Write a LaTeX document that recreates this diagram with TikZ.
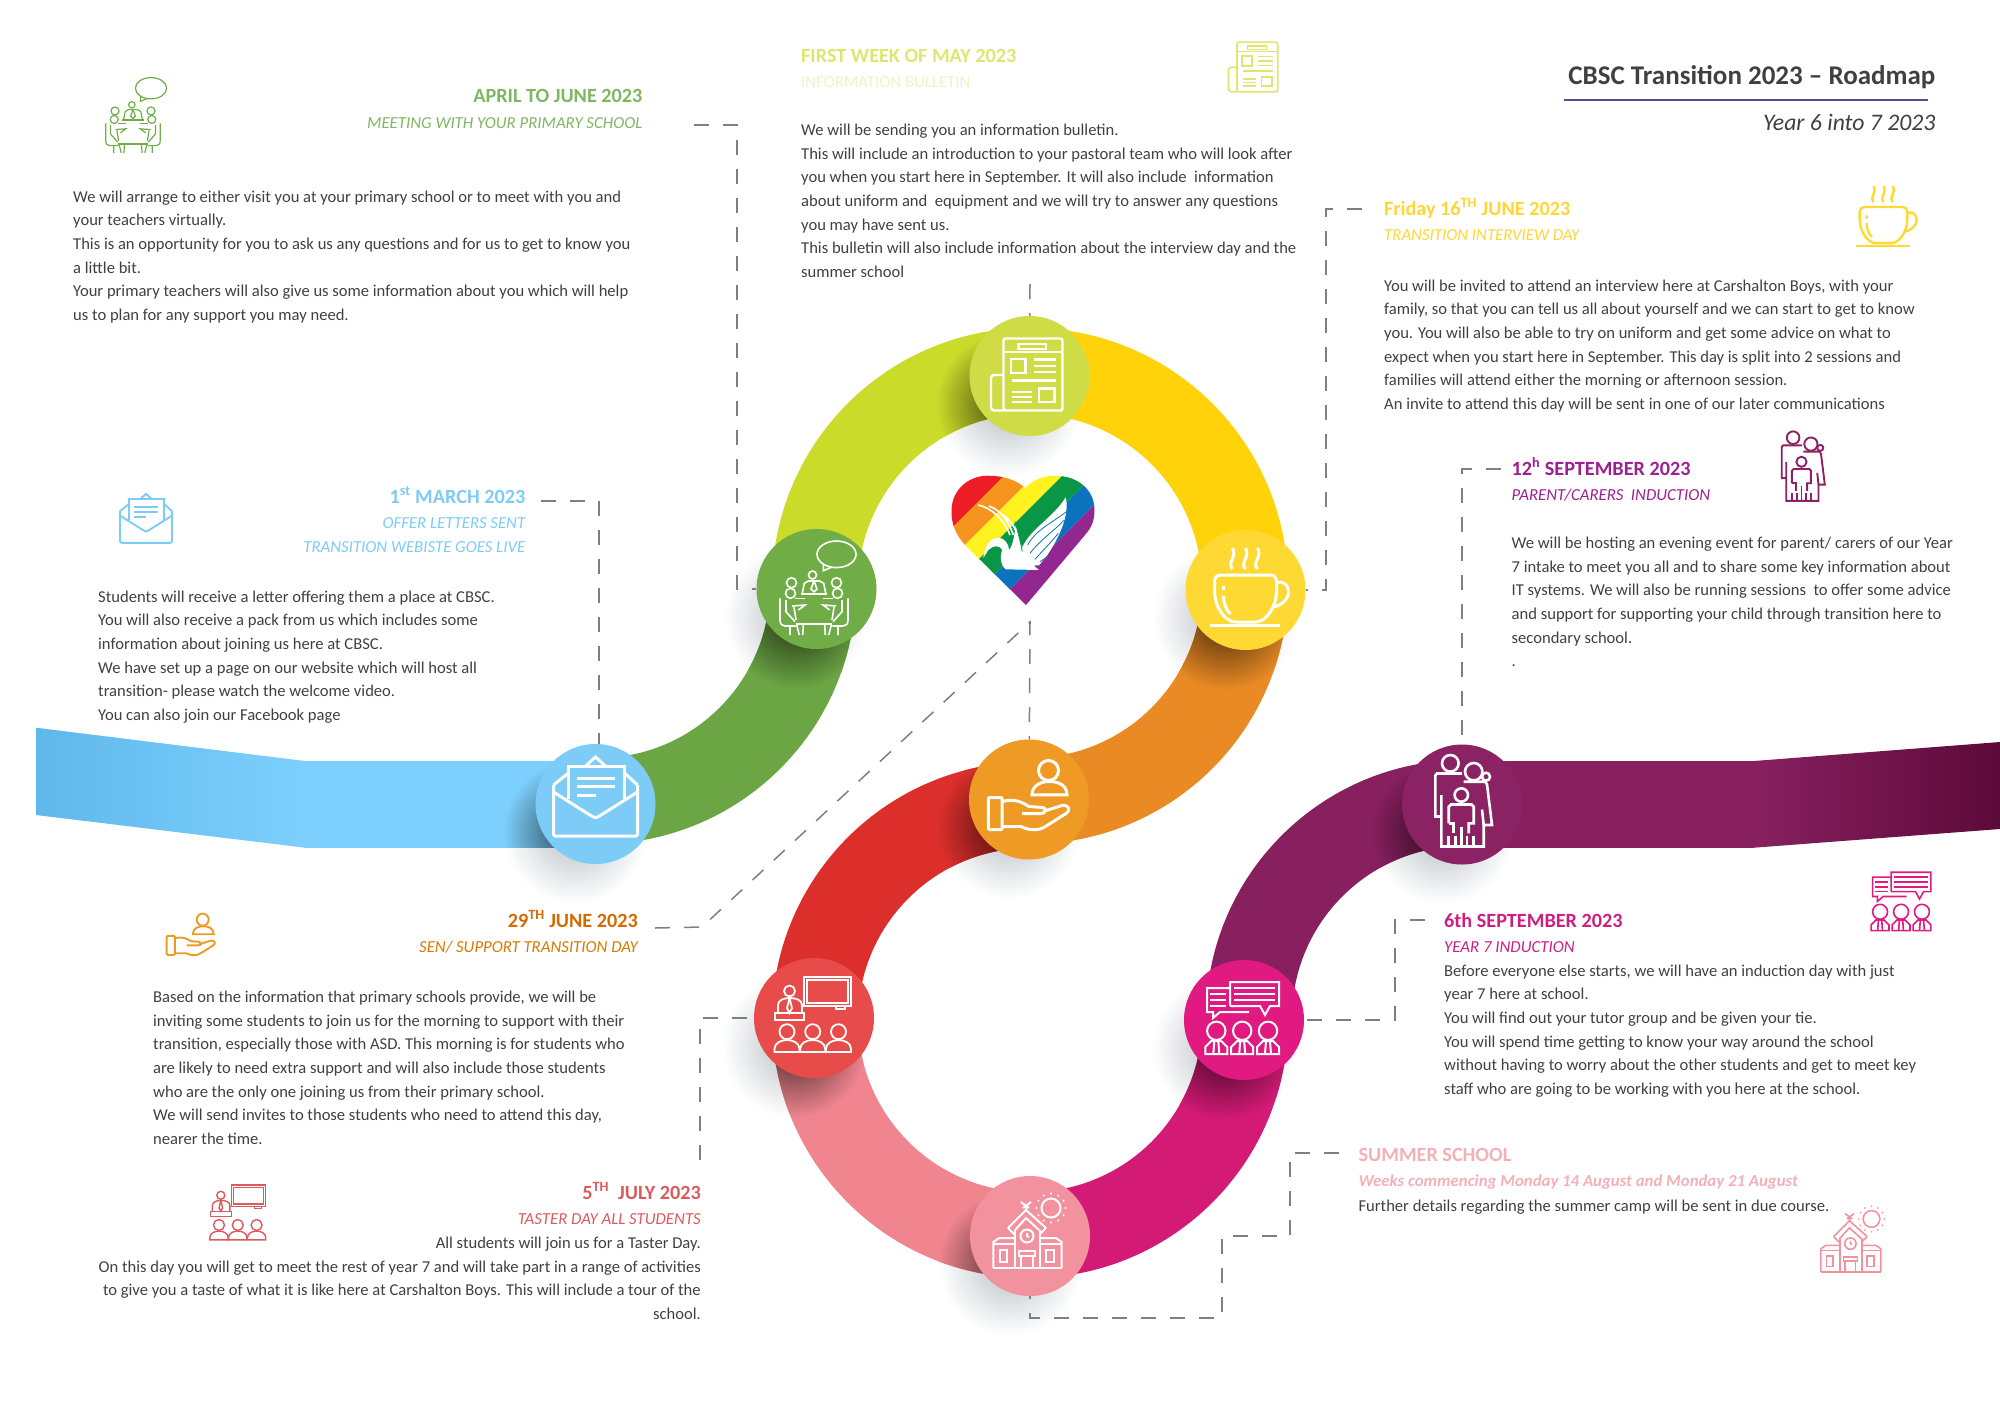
\documentclass[tikz,border=0pt]{standalone}
\usepackage{fontspec}
\setmainfont{Carlito}
\usetikzlibrary{positioning}
\definecolor{bandblue}{HTML}{7DD0FD}
\definecolor{bandblueend}{HTML}{5FB8EA}
\definecolor{bandgreen}{HTML}{6BA544}
\definecolor{bandlime}{HTML}{CBDB2A}
\definecolor{bandyellow}{HTML}{FFD20A}
\definecolor{bandorange}{HTML}{E98A24}
\definecolor{bandred}{HTML}{DC2F2B}
\definecolor{bandpink}{HTML}{F0858F}
\definecolor{bandmagenta}{HTML}{D31A75}
\definecolor{bandpurple}{HTML}{882060}
\definecolor{bandpurpleend}{HTML}{5C0A38}
\definecolor{stopblue}{HTML}{7DCBF7}
\definecolor{stopgreen}{HTML}{70AD47}
\definecolor{stoplime}{HTML}{D0DC46}
\definecolor{stopyellow}{HTML}{FFD933}
\definecolor{stoporange}{HTML}{EE9A25}
\definecolor{stopred}{HTML}{E84C4A}
\definecolor{stoppink}{HTML}{F2929E}
\definecolor{stopmagenta}{HTML}{E01A80}
\definecolor{stoppurple}{HTML}{8B2264}
\definecolor{softshadow}{HTML}{B8BEC3}
\definecolor{leadergray}{HTML}{7F7F7F}
\definecolor{bodygray}{HTML}{404040}
\definecolor{rulepurple}{HTML}{5F4B8B}
\definecolor{txtgreen}{HTML}{7FB662}
\definecolor{txtblue}{HTML}{7DCBF7}
\definecolor{txtlime}{HTML}{DDE76F}
\definecolor{txtpale}{HTML}{EFF3C4}
\definecolor{txtyellow}{HTML}{FFD633}
\definecolor{txtpurple}{HTML}{9E1F92}
\definecolor{txtorange}{HTML}{D66A00}
\definecolor{txtred}{HTML}{DB5A5E}
\definecolor{txtmagenta}{HTML}{CE1F80}
\definecolor{txtpink}{HTML}{F4B0B8}
\definecolor{heartred}{HTML}{EE1C25}
\definecolor{heartorange}{HTML}{F7941D}
\definecolor{heartyellow}{HTML}{FFF21F}
\definecolor{heartgreen}{HTML}{0A9647}
\definecolor{heartblue}{HTML}{0B72BD}
\definecolor{heartpurple}{HTML}{92278F}
\newcommand{\ringband}[5]{\fill[#1] (#2,#3) ++(#4:258) arc[start angle=#4,end angle=#5,radius=258] -- ++(#5:-86) arc[start angle=#5,end angle=#4,radius=172] -- cycle;}
\newcommand{\ringshade}[7]{\begin{scope}
    \clip (#2,#3) ++(#4:258) arc[start angle=#4,end angle=#5,radius=258] -- ++(#5:-86) arc[start angle=#5,end angle=#4,radius=172] -- cycle;
    \shade[inner color=#1!30!black,outer color=#1] (#6,#7) circle (72);
  \end{scope}}
\tikzset{
  newsicon/.pic={
    \draw[rounded corners=2] (-26,-37.5) rectangle (33,34.5);
    \draw[rounded corners=3] (-26,-1) -- (-38.5,-1) -- (-38.5,34.5) -- (-26,34.5);
    \draw (-26,-24) -- (33,-24);
    \draw (-11,-32) rectangle (16.6,-27);
    \draw (-18.6,-17) rectangle (-4,-3);
    \foreach \y in {-16.5,-10,-3.8} \draw (4,\y) -- (26,\y);
    \draw (-18,4.6) -- (26,4.6);
    \foreach \y in {16,21,26} \draw (-18,\y) -- (2,\y);
    \draw (9.5,12.6) rectangle (25,26);
  },
  meetingicon/.pic={
    \draw (20,-34.7) ellipse (19.5 and 13.3);
    \draw (7,-25) -- (6.8,-18.3) -- (15,-21.8);
    \draw (-4,-14) circle (4);
    \foreach \sgn in {1,-1} {
      \begin{scope}[shift={(-2.5,0)},xscale=\sgn]
        \draw (-22.5,-6.3) circle (5);
        \draw (-23.5,4.3) circle (5);
        \draw (-34,9.3) -- (-34,31) .. controls (-34,35) and (-32,37) .. (-29,37) -- (-18.3,37);
        \draw (-28,11) -- (-28,22.7) -- (-19,32.7);
        \draw (-19,9.3) -- (-9,9.3);
        \draw (-22,17) -- (-9,16) -- (-15.7,21) (-20,18.3) -- (-18,31);
        \draw (-13.3,5) -- (0,5);
        \draw (-11.7,4.3) -- (-9.7,-5.7) -- (-5.7,-8) -- (0,-8);
        \draw (0,-8) -- (-3,0) -- (0,3);
        \draw (-18.3,35) -- (0,35);
        \draw (-24,37) -- (-24,46) (-17.3,36) -- (-14.7,46) (-10.7,36) -- (-11.3,46);
      \end{scope}
    }
  },
  coffeeicon/.pic={
    \draw (-25,-15) -- (25,-15) .. controls (29,-15) and (31,-12) .. (31,-8) -- (31,0) .. controls (31,18) and (20,32) .. (10,32) -- (-10,32) .. controls (-20,32) and (-31,18) .. (-31,0) -- (-31,-8) .. controls (-31,-12) and (-29,-15) .. (-25,-15) -- cycle;
    \draw (31,-7) .. controls (38,-10) and (43,-5) .. (43,2) .. controls (43,9) and (36,16) .. (27,17);
    \draw (-22,-4) -- (-22,0) (-22,6) .. controls (-22,12) and (-20,20) .. (-15,24);
    \draw (-36,35.6) -- (34,35.6);
    \foreach \x in {-13,0,12} \draw (\x,-21) .. controls ({\x-6},-27) and ({\x+5},-33) .. (\x,-42);
  },
  handicon/.pic={
    \draw (19.5,-29) circle (10);
    \draw (3,-4.6) .. controls (3,-14) and (12,-18) .. (20,-18) .. controls (30,-18) and (38,-14) .. (38,-4.6) -- cycle;
    \draw[rounded corners=1] (-40.6,-2) rectangle (-27,30);
    \draw (-27,2) .. controls (-15,-1) and (-8,2) .. (0,7) -- (14,8) .. controls (18,9) and (17,14) .. (12,14) -- (-7,14);
    \draw (14,12) -- (33,6) .. controls (40,5) and (42,11) .. (37,14) -- (18,26) .. controls (10,32) and (0,31) .. (-8,27) -- (-27,27);
  },
  lettericon/.pic={
    \draw[rounded corners=2] (-42,-19) -- (-42,32) -- (42,32) -- (42,-19);
    \draw (-42,-12) -- (-4,12) .. controls (-1,14) and (1,14) .. (4,12) -- (42,-12);
    \draw (-42,-19) -- (-27,-31) (42,-19) -- (29,-31);
    \draw (-10,-38) -- (0,-47) -- (10,-38);
    \draw (-27,-5) -- (-27,-38) -- (29,-38) -- (29,-5);
    \draw (-19,-26) -- (19,-26) (-19,-18) -- (19,-18) (-19,-9) -- (0,-9);
  },
  presentericon/.pic={
    \draw (-10,-41) rectangle (37,-12);
    \draw (-7,-38) rectangle (34,-15);
    \draw (22,-12) rectangle (31,-9);
    \draw (-24.5,-27) circle (5.5);
    \draw (-36,-5) -- (-36,-13) .. controls (-36,-18) and (-30,-20) .. (-24.5,-20) .. controls (-18,-20) and (-12,-18) .. (-12,-13) -- (-12,-5);
    \draw (-24.5,-20) -- (-27,-10) -- (-24.5,-5) -- (-22,-10) -- cycle;
    \draw (-39,-5) rectangle (-10,2);
    \foreach \x in {-27,-1.3,24.5} {
      \draw (\x,13.7) circle (7.5);
      \draw ({\x-12.5},34) -- ({\x-12.5},31) .. controls ({\x-12.5},25) and ({\x-6},22) .. (\x,22) .. controls ({\x+6},22) and ({\x+12.5},25) .. ({\x+12.5},31) -- ({\x+12.5},34) -- cycle;
    }
  },
  inductionicon/.pic={
    \draw (-14,-14) -- (-14,-38) -- (35,-38) -- (35,-14) -- (26,-14) -- (21,-5) -- (16,-14) -- (-14,-14);
    \draw (-14,-32) -- (-37,-32) -- (-37,-8) -- (-31,-8) -- (-31,-2) -- (-24,-8) -- (5,-8);
    \foreach \y in {-32,-26,-20} \draw (-10,\y) -- (31,\y);
    \foreach \y in {-26,-20,-14} \draw (-34,\y) -- (-18,\y);
    \foreach \x in {-27.7,-1.8,24} {
      \draw (\x,10.8) circle (9.2);
      \draw ({\x-11},34) -- ({\x-11},27) -- ({\x-5},21) -- ({\x+5},21) -- ({\x+11},27) -- ({\x+11},34) -- cycle;
      \draw ({\x-2},21) -- ({\x-3},34) ({\x+2},21) -- ({\x+3},34);
    }
  },
  schoolicon/.pic={
    \draw (-36.6,32) -- (31.7,32);
    \draw (-36.6,32) -- (-36.6,6) -- (-31,2) -- (-15,2) (31.7,32) -- (31.7,6) -- (26,2) -- (10,2);
    \draw (-36.6,8) -- (-15,8) (10,8) -- (31.7,8);
    \draw (-22,-8) -- (-4,-26) -- (16,-8) (-15,-6) -- (-4,-18) -- (9,-6);
    \draw (-22,-8) -- (-15,-1) (16,-8) -- (10,-2);
    \draw (-15,-6) -- (-15,32) (10,-6) -- (10,32);
    \draw (-3,0) circle (6.5);
    \draw (-3,-3) -- (-3,0) -- (-1,1);
    \draw (-4,-26) -- (-4,-30) (-9,-34) -- (-1,-28) (1,-34) -- (-7,-28);
    \draw (-30,14) rectangle (-23,26) (16,14) rectangle (24,26);
    \draw (-11,15) rectangle (5,20);
    \draw (-9,20) -- (-9,32) (3,20) -- (3,32);
    \draw (21,-28) circle (9.5);
    \foreach \a in {0,30,...,330} \fill (21,-28) ++(\a:14.5) circle (1.1);
  },
  familyicon/.pic={
    \draw (-11.7,-41.2) circle (8.3);
    \draw (11.7,-32.8) circle (8.7);
    \draw (24,-27.8) circle (4);
    \draw (0,-31) -- (-25,-31) -- (-26.7,-29) -- (-26.7,12) -- (-20.7,12);
    \draw (-20.7,-9.5) -- (-20.7,42) -- (21.7,42) -- (21.7,20.5) -- (30,20.5) -- (25,-20) -- (23.3,-22.8) -- (1.7,-22.8);
    \draw (21.7,20.5) -- (20,5);
    \draw (-0.7,-9.5) circle (6.7);
    \draw (-13.3,18.8) -- (-13.3,2.2) -- (-11,0) -- (9.5,0) -- (11.7,2.2) -- (11.7,18.8) -- (6.7,18.8) -- (6.7,28.8);
    \draw (-13.3,18.8) -- (-8.3,18.8) -- (-8.3,28.8);
    \foreach \x in {-13.3,-6.7,-0.7,5,11.7} \draw (\x,31) -- (\x,42);
    \draw (-0.7,22) -- (-0.7,31);
  },
}
\begin{document}
\begin{tikzpicture}[
    x=1pt,y=-1pt,
    stopdot/.style={circle,minimum size=120pt,inner sep=0pt},
    softblob/.style={inner color=softshadow,outer color=white},
    leader/.style={draw=leadergray,line width=1.5pt,dash pattern=on 15pt off 14pt},
    headtxt/.style={font=\fontsize{20.2}{22}\selectfont\bfseries,inner sep=0pt},
    subtxt/.style={font=\fontsize{16.8}{20}\selectfont\itshape,inner sep=0pt},
    bodytxt/.style={font=\fontsize{16.58}{23.6}\selectfont,text=bodygray,inner sep=0pt,align=left,anchor=north west,execute at begin node=\strut},
    bodyright/.style={bodytxt,align=right,anchor=north east},
    bigicon/.style={white,draw=white,fill=white},
  ]
  \useasboundingbox (0,0) rectangle (2000,1414);

  \foreach \cx/\cy in {575/832,796/617,1008/404,1225/618,1009/827,794/1046,1224/1048,1010/1264,1442/832}
    \shade[softblob] (\cx,\cy) circle (72);

  \shade[left color=bandblueend,right color=bandblue] (36,727.7) -- (305,761) -- (305,847.7) -- (36,815) -- cycle;
  \fill[bandblue] (305,761) rectangle (596,847.7);
  \shade[left color=bandpurple,right color=bandpurpleend] (1754,761) -- (2000,742) -- (2000,829) -- (1754,847.7) -- cycle;
  \fill[bandpurple] (1462,761) rectangle (1754,847.7);

  \ringband{bandgreen}{598}{586}{90}{0}
  \ringband{bandlime}{1030}{586}{180}{270}
  \ringband{bandyellow}{1030}{586}{270}{360}
  \ringband{bandorange}{1030}{586}{0}{90}
  \ringband{bandred}{1030}{1020}{270}{180}
  \ringband{bandpink}{1030}{1020}{180}{90}
  \ringband{bandmagenta}{1030}{1020}{90}{0}
  \ringband{bandpurple}{1464}{1018}{180}{270}

  \begin{scope}
    \clip (305,761) rectangle (596,847.7);
    \shade[inner color=bandblue!30!black,outer color=bandblue] (575,832) circle (72);
  \end{scope}
  \ringshade{bandgreen}{598}{586}{90}{0}{796}{617}
  \ringshade{bandlime}{1030}{586}{180}{270}{1008}{404}
  \ringshade{bandorange}{1030}{586}{0}{90}{1225}{618}
  \ringshade{bandred}{1030}{1020}{270}{180}{1009}{827}
  \ringshade{bandpink}{1030}{1020}{180}{90}{794}{1046}
  \ringshade{bandpink}{1030}{1020}{180}{90}{1010}{1264}
  \ringshade{bandmagenta}{1030}{1020}{90}{0}{1224}{1048}
  \ringshade{bandpurple}{1464}{1018}{180}{270}{1442}{832}

  \begin{scope}
    \clip (1026,605) -- (965,545) .. controls (956,535) and (951,524) .. (951.5,510) .. controls (952,490) and (968,475.7) .. (988,475.7) .. controls (1003,475.7) and (1017,480) .. (1025,488) .. controls (1033,480) and (1043,475.7) .. (1055,475.7) .. controls (1078,475.7) and (1094.5,490) .. (1094.5,510) .. controls (1094.5,520) and (1092,527) .. (1085,535) -- cycle;
    \foreach \sa/\sb/\col in {1430/1480/heartred,1480/1510/heartorange,1510/1538/heartyellow,1538/1569/heartgreen,1569/1599/heartblue,1599/1700/heartpurple}
      \fill[\col] ({\sa-460},460) -- ({\sb-460},460) -- ({\sb-620},620) -- ({\sa-620},620) -- cycle;
  \end{scope}
  \begin{scope}[shift={(945,470)},x=.3333pt,y=-.3333pt]
    \fill[white] (225,250) .. controls (245,180) and (320,150) .. (362,82) .. controls (375,130) and (345,200) .. (305,258) -- (282,286) -- (240,288) -- cycle;
    \draw[heartblue,line width=.8pt] (248,225) .. controls (275,175) and (330,155) .. (370,120) (255,250) .. controls (285,210) and (330,180) .. (358,150) (270,268) .. controls (295,240) and (320,215) .. (340,190) (285,275) -- (305,262);
    \fill[white] (115,264) .. controls (118,230) and (135,203) .. (160,203) .. controls (180,203) and (192,225) .. (192,240) .. controls (205,225) and (208,195) .. (212,165) .. controls (225,210) and (230,260) .. (282,300) -- (182,298) .. controls (165,285) and (165,255) .. (172,240) .. controls (165,225) and (145,225) .. (130,240) -- cycle;
    \draw[white,line width=1.7pt] (100,105) .. controls (140,115) and (175,145) .. (195,195) (132,108) .. controls (165,120) and (190,150) .. (205,195) (165,130) .. controls (185,140) and (205,160) .. (215,190);
    \draw[heartgreen,line width=.8pt] (210,155) .. controls (218,180) and (225,210) .. (232,245);
  \end{scope}

  \node[stopdot,fill=stopblue]    (stop_letter)    at (595.5,804)  {};
  \node[stopdot,fill=stopgreen]   (stop_meeting)   at (816.5,589)  {};
  \node[stopdot,fill=stoplime]    (stop_news)      at (1029.5,376) {};
  \node[stopdot,fill=stopyellow]  (stop_coffee)    at (1245.5,590) {};
  \node[stopdot,fill=stoporange]  (stop_hand)      at (1029,799.5) {};
  \node[stopdot,fill=stopred]     (stop_taster)    at (814,1018)   {};
  \node[stopdot,fill=stopmagenta] (stop_induction) at (1244,1020)  {};
  \node[stopdot,fill=stoppink]    (stop_school)    at (1030,1236)  {};
  \node[stopdot,fill=stoppurple]  (stop_family)    at (1462,804.5) {};

  \coordinate (lnk_april)  at (694,125);
  \coordinate (lnk_april2) at (737,125);
  \coordinate (lnk_may)    at (1030,284);
  \coordinate (lnk_friday) at (1362,209);
  \coordinate (lnk_friday2) at (1326,209);
  \coordinate (lnk_march)  at (541,501);
  \coordinate (lnk_march2) at (599,501);
  \coordinate (lnk_sept)   at (1501,469);
  \coordinate (lnk_june)   at (655,928);
  \coordinate (lnk_june2)  at (702,927);
  \coordinate (lnk_heart)  at (1030,622);
  \coordinate (lnk_july)   at (700,1160);
  \coordinate (lnk_six)    at (1425,920);
  \coordinate (lnk_six2)   at (1395,920);
  \coordinate (lnk_sum)    at (1339,1153);
  \coordinate (lnk_sum2)   at (1290,1153);
  \coordinate (lnk_sum3)   at (1290,1236);
  \coordinate (lnk_sum4)   at (1222,1236);
  \coordinate (lnk_sum5)   at (1222,1318);
  \coordinate (lnk_sum6)   at (1030,1318);

  \draw[leader] (lnk_april) -- (lnk_april2) |- (stop_meeting);
  \draw[leader] (lnk_may) -- (stop_news);
  \draw[leader] (lnk_friday) -- (lnk_friday2) |- (stop_coffee);
  \draw[leader] (lnk_march) -- (lnk_march2) -- (lnk_march2 |- stop_letter.north);
  \draw[leader] (lnk_sept) -| (stop_family);
  \draw[leader] (lnk_june) -- (lnk_june2) -- (lnk_heart) -- (stop_hand);
  \draw[leader] (lnk_july) |- (stop_taster);
  \draw[leader] (lnk_six) -- (lnk_six2) |- (stop_induction);
  \draw[leader] (lnk_sum) -- (lnk_sum2) -- (lnk_sum3) -- (lnk_sum4) -- (lnk_sum5) -- (lnk_sum6) -- (stop_school);

  \pic[bigicon,line width=3pt]   at (stop_letter)    {lettericon};
  \pic[bigicon,line width=1.6pt] at (stop_meeting)   {meetingicon};
  \pic[bigicon,line width=2.4pt] at (stop_news)      {newsicon};
  \pic[bigicon,line width=3pt]   at (stop_coffee)    {coffeeicon};
  \pic[bigicon,line width=3pt]   at (stop_hand)      {handicon};
  \pic[bigicon,line width=1.8pt] at (stop_taster)    {presentericon};
  \pic[bigicon,line width=2pt]   at (stop_induction) {inductionicon};
  \pic[bigicon,line width=2pt]   at (stop_school)    {schoolicon};
  \pic[bigicon,line width=2.6pt] at (stop_family)    {familyicon};

  \pic[line width=1.2pt,stopgreen,scale=.8]    at (135,116)      {meetingicon};
  \pic[line width=1.7pt,txtlime,scale=.69]     at (1255,68)      {newsicon};
  \pic[line width=2.4pt,stopyellow,scale=.77]  at (1883.5,218.5) {coffeeicon};
  \pic[line width=1.9pt,stopblue,scale=.62]    at (146,523)      {lettericon};
  \pic[line width=1.9pt,stoporange,scale=.6]   at (191,937)      {handicon};
  \pic[line width=1.4pt,txtred,scale=.73]      at (238.7,1215)   {presentericon};
  \pic[line width=1.6pt,stopmagenta,scale=.81] at (1902.5,903)   {inductionicon};
  \pic[line width=1.6pt,stoppink,scale=.88]    at (1853,1243.6)  {schoolicon};
  \pic[line width=1.9pt,stoppurple,scale=.76]  at (1802,469)     {familyicon};

  \node[font=\fontsize{27}{30}\selectfont\bfseries,text=bodygray,inner sep=0pt,anchor=base east] (title) at (1935.5,84.5) {CBSC Transition 2023 – Roadmap};
  \coordinate (rule_a) at (1563.5,100.3);
  \coordinate (rule_b) at (1928,100.3);
  \draw[rulepurple,line width=2pt] (rule_a) -- (rule_b);
  \node[font=\fontsize{23.7}{26}\selectfont\itshape,text=bodygray,inner sep=0pt,anchor=base east] (title_sub) at (1935.5,130.5) {Year 6 into 7 2023};

  \node[headtxt,text=txtgreen,anchor=base east] (h_april) at (642.6,102.5) {APRIL TO JUNE 2023};
  \node[subtxt,text=txtgreen,anchor=base east]  (s_april) at (642.6,128.5) {MEETING WITH YOUR PRIMARY SCHOOL};
  \node[bodytxt] (b_april) at (73,190.5) {We will arrange to either visit you at your primary school or to meet with you and\\your teachers virtually.\\This is an opportunity for you to ask us any questions and for us to get to know you\\a little bit.\\Your primary teachers will also give us some information about you which will help\\us to plan for any support you may need.};

  \node[headtxt,text=txtlime,anchor=base west] (h_may) at (801,62.5) {FIRST WEEK OF MAY 2023};
  \node[font=\fontsize{16.8}{20}\selectfont,text=txtpale,inner sep=0pt,anchor=base west] (s_may) at (801,87.5) {INFORMATION BULLETIN};
  \node[bodytxt] (b_may) at (801,124) {We will be sending you an information bulletin.\\This will include an introduction to your pastoral team who will look after\\you when you start here in September. It will also include~ information\\about uniform and~ equipment and we will try to answer any questions\\you may have sent us.\\This bulletin will also include information about the interview day and the\\summer school};

  \node[headtxt,text=txtyellow,anchor=base west] (h_friday) at (1384,215.5) {Friday 16\textsuperscript{TH} JUNE 2023};
  \node[subtxt,text=txtyellow,anchor=base west]  (s_friday) at (1384,240.5) {TRANSITION INTERVIEW DAY};
  \node[bodytxt] (b_friday) at (1384,279.5) {You will be invited to attend an interview here at Carshalton Boys, with your\\family, so that you can tell us all about yourself and we can start to get to know\\you. You will also be able to try on uniform and get some advice on what to\\expect when you start here in September. This day is split into 2 sessions and\\families will attend either the morning or afternoon session.\\An invite to attend this day will be sent in one of our later communications};

  \node[headtxt,text=txtpurple,anchor=base west] (h_sept) at (1511.5,475) {12\textsuperscript{h} SEPTEMBER 2023};
  \node[subtxt,text=txtpurple,anchor=base west]  (s_sept) at (1511.5,500.5) {PARENT/CARERS~ INDUCTION};
  \node[bodytxt] (b_sept) at (1511.5,537) {We will be hosting an evening event for parent/ carers of our Year\\7 intake to meet you all and to share some key information about\\IT systems. We will also be running sessions~ to offer some advice\\and support for supporting your child through transition here to\\secondary school.\\.};

  \node[headtxt,text=txtblue,anchor=base east] (h_march) at (525.5,503) {1\textsuperscript{st} MARCH 2023};
  \node[subtxt,text=txtblue,anchor=base east]  (s_march) at (525.5,528.5) {OFFER LETTERS SENT};
  \node[subtxt,text=txtblue,anchor=base east]  (s_march2) at (525.5,552) {TRANSITION WEBISTE GOES LIVE};
  \node[bodytxt] (b_march) at (98,590.5) {Students will receive a letter offering them a place at CBSC.\\You will also receive a pack from us which includes some\\information about joining us here at CBSC.\\We have set up a page on our website which will host all\\transition- please watch the welcome video.\\You can also join our Facebook page};

  \node[headtxt,text=txtorange,anchor=base east] (h_june) at (638,927) {29\textsuperscript{TH} JUNE 2023};
  \node[subtxt,text=txtorange!90!yellow,anchor=base east] (s_june) at (638,952) {SEN/ SUPPORT TRANSITION DAY};
  \node[bodytxt] (b_june) at (153,991) {Based on the information that primary schools provide, we will be\\inviting some students to join us for the morning to support with their\\transition, especially those with ASD. This morning is for students who\\are likely to need extra support and will also include those students\\who are the only one joining us from their primary school.\\We will send invites to those students who need to attend this day,\\nearer the time.};

  \node[headtxt,text=txtred,anchor=base east] (h_july) at (701,1199.5) {5\textsuperscript{TH}~ JULY 2023};
  \node[subtxt,text=txtred,anchor=base east]   (s_july) at (701,1224.5) {TASTER DAY ALL STUDENTS};
  \node[bodyright] (b_july) at (701,1237) {All students will join us for a Taster Day.\\On this day you will get to meet the rest of year 7 and will take part in a range of activities\\to give you a taste of what it is like here at Carshalton Boys. This will include a tour of the\\school.};

  \node[headtxt,text=txtmagenta,anchor=base west] (h_six) at (1444,927) {6th SEPTEMBER 2023};
  \node[subtxt,text=txtmagenta,anchor=base west]  (s_six) at (1444,952) {YEAR 7 INDUCTION};
  \node[bodytxt] (b_six) at (1444,964.5) {Before everyone else starts, we will have an induction day with just\\year 7 here at school.\\You will find out your tutor group and be given your tie.\\You will spend time getting to know your way around the school\\without having to worry about the other students and get to meet key\\staff who are going to be working with you here at the school.};

  \node[headtxt,text=txtpink,anchor=base west] (h_sum) at (1358.4,1161) {SUMMER SCHOOL};
  \node[subtxt,font=\fontsize{16.8}{20}\selectfont\bfseries\itshape,text=txtpink,anchor=base west] (s_sum) at (1358.4,1186.5) {Weeks commencing Monday 14 August and Monday 21 August};
  \node[bodytxt] (b_sum) at (1358.4,1195) {Further details regarding the summer camp will be sent in due course.};
\end{tikzpicture}
\end{document}
